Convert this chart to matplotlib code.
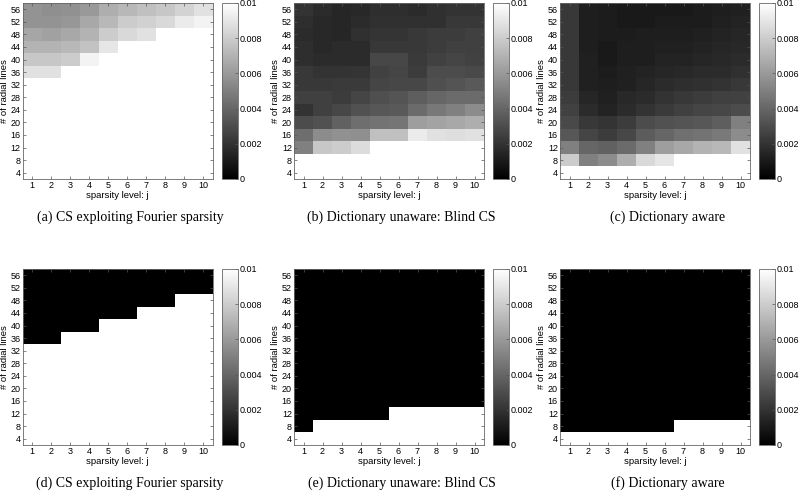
import numpy as np
import matplotlib
matplotlib.use("Agg")
import matplotlib.pyplot as plt

plt.rcParams['font.family'] = ['Liberation Sans', 'DejaVu Sans']

# Grid axes
radial_lines = [56, 52, 48, 44, 40, 36, 32, 28, 24, 20, 16, 12, 8, 4]   # rows, top to bottom
sparsity = [1, 2, 3, 4, 5, 6, 7, 8, 9, 10]
cbar_ticks = [0, 0.002, 0.004, 0.006, 0.008, 0.01]
cbar_labels = ['0', '0.002', '0.004', '0.006', '0.008', '0.01']

# errors in units of 1e-3; W = off the scale (white)
W = 12
err_fourier = [
    [5.8, 5.6, 5.7, 6.0, 6.8, 7.2, 7.5, 7.8, 8.3, 8.8],
    [5.8, 5.8, 5.9, 6.6, 7.2, 8.0, 8.2, 8.5, 9.2, 9.5],
    [6.5, 6.3, 6.6, 7.0, 8.0, 8.5, 8.8, W, W, W],
    [7.0, 7.0, 7.2, 7.6, 9.0, W, W, W, W, W],
    [7.8, 7.8, 8.0, 9.5, W, W, W, W, W, W],
    [8.8, 8.8, W, W, W, W, W, W, W, W],
    [W, W, W, W, W, W, W, W, W, W],
    [W, W, W, W, W, W, W, W, W, W],
    [W, W, W, W, W, W, W, W, W, W],
    [W, W, W, W, W, W, W, W, W, W],
    [W, W, W, W, W, W, W, W, W, W],
    [W, W, W, W, W, W, W, W, W, W],
    [W, W, W, W, W, W, W, W, W, W],
    [W, W, W, W, W, W, W, W, W, W],
]
err_blind = [
    [2.0, 1.7, 1.5, 1.6, 1.8, 1.8, 1.7, 1.9, 2.0, 2.0],
    [1.8, 1.6, 1.5, 1.7, 1.9, 1.9, 1.9, 1.9, 2.2, 2.2],
    [1.7, 1.6, 1.5, 1.9, 2.1, 2.1, 2.2, 2.4, 2.4, 2.5],
    [1.8, 1.6, 1.7, 1.7, 2.2, 2.2, 2.2, 2.4, 2.5, 2.5],
    [1.8, 1.7, 1.7, 1.7, 2.8, 2.8, 2.3, 2.6, 2.7, 2.6],
    [2.2, 2.0, 2.0, 2.1, 2.6, 2.7, 2.4, 3.0, 3.0, 2.9],
    [2.2, 2.2, 2.3, 2.3, 2.7, 2.8, 2.8, 3.1, 3.3, 3.5],
    [2.5, 2.5, 2.4, 2.7, 3.1, 3.3, 3.7, 4.0, 4.2, 4.2],
    [2.0, 2.5, 2.8, 3.2, 3.4, 3.5, 4.2, 4.7, 5.0, 5.5],
    [3.0, 3.2, 3.8, 4.3, 4.5, 4.6, 6.2, 6.4, 6.6, 6.8],
    [4.3, 5.5, 5.7, 5.6, 7.5, 7.5, 9.2, 8.8, 8.7, 8.8],
    [5.0, 7.8, 8.0, 8.6, W, W, W, W, W, W],
    [W, W, W, W, W, W, W, W, W, W],
    [W, W, W, W, W, W, W, W, W, W],
]
err_aware = [
    [2.2, 1.2, 1.1, 1.0, 1.0, 1.0, 1.0, 1.1, 1.2, 1.3],
    [2.2, 1.2, 1.1, 1.0, 1.0, 1.1, 1.1, 1.1, 1.3, 1.4],
    [2.2, 1.2, 1.1, 1.1, 1.2, 1.2, 1.2, 1.3, 1.4, 1.5],
    [2.2, 1.2, 1.0, 1.2, 1.2, 1.3, 1.3, 1.4, 1.5, 1.6],
    [2.2, 1.3, 1.0, 1.2, 1.2, 1.4, 1.4, 1.5, 1.6, 1.7],
    [2.2, 1.3, 1.1, 1.3, 1.4, 1.5, 1.6, 1.7, 1.7, 1.9],
    [2.2, 1.3, 1.2, 1.3, 1.5, 1.7, 1.8, 1.9, 2.0, 2.2],
    [2.4, 1.5, 1.3, 1.6, 1.7, 2.0, 2.2, 2.4, 2.5, 2.6],
    [2.6, 1.7, 1.4, 1.7, 2.0, 2.3, 2.5, 2.7, 2.8, 3.0],
    [2.9, 2.2, 2.1, 2.4, 3.0, 3.2, 3.3, 3.4, 3.7, 5.0],
    [3.4, 2.7, 2.4, 2.8, 3.6, 4.0, 4.4, 4.5, 4.8, 5.5],
    [5.0, 4.0, 3.8, 4.2, 5.0, 6.2, 6.6, 7.0, 7.2, 8.8],
    [8.0, 5.0, 5.5, 6.8, 8.5, 9.0, W, W, W, W],
    [W, W, W, W, W, W, W, W, W, W],
]
# thresholded success maps (0 = success, W = failure)
thr_fourier = [
    [0, 0, 0, 0, 0, 0, 0, 0, 0, 0],
    [0, 0, 0, 0, 0, 0, 0, 0, 0, 0],
    [0, 0, 0, 0, 0, 0, 0, 0, W, W],
    [0, 0, 0, 0, 0, 0, W, W, W, W],
    [0, 0, 0, 0, W, W, W, W, W, W],
    [0, 0, W, W, W, W, W, W, W, W],
] + [[W] * 10] * 8
thr_blind = [[0] * 10] * 11 + [
    [0, 0, 0, 0, 0, W, W, W, W, W],
    [0, W, W, W, W, W, W, W, W, W],
    [W, W, W, W, W, W, W, W, W, W],
]
thr_aware = [[0] * 10] * 12 + [
    [0, 0, 0, 0, 0, 0, W, W, W, W],
    [W, W, W, W, W, W, W, W, W, W],
]

panels = [
    (err_fourier, '(a) CS exploiting Fourier sparsity'),
    (err_blind, '(b) Dictionary unaware: Blind CS'),
    (err_aware, '(c) Dictionary aware'),
    (thr_fourier, '(d) CS exploiting Fourier sparsity'),
    (thr_blind, '(e) Dictionary unaware: Blind CS'),
    (thr_aware, '(f) Dictionary aware'),
]

fig = plt.figure(figsize=(8, 4.92), dpi=100)

# pixel layout of each panel
lefts = [22.5, 294, 560]
cb_lefts = [222, 493, 759]
tops = [3, 269]
ax_w, ax_h = 190, 176
cb_w = 16
fs = 6.5

for i, (data, caption) in enumerate(panels):
    r, c = divmod(i, 3)
    x0 = lefts[c]
    y0 = tops[r]
    ax = fig.add_axes([x0 / 800, 1 - (y0 + ax_h) / 492, ax_w / 800, ax_h / 492])
    vals = np.array(data, dtype=float) / 1000.0
    im = ax.imshow(vals, cmap='gray', vmin=0, vmax=0.01, origin='upper',
                   extent=[0.5, 10.5, 2, 58], aspect='auto', interpolation='nearest')
    ax.set_xticks(sparsity)
    ax.set_yticks(radial_lines)
    ax.tick_params(direction='in', length=2.5, width=0.5, labelsize=fs,
                   top=True, right=True, color='#555555', pad=1.5)
    for s in ax.spines.values():
        s.set_linewidth(0.6)
        s.set_color('#666666')
    ax.set_xlabel('sparsity level: j', fontsize=6.8, labelpad=0.5)
    ax.set_ylabel('# of radial lines', fontsize=6.8, labelpad=1)

    cax = fig.add_axes([cb_lefts[c] / 800, 1 - (y0 + ax_h) / 492, cb_w / 800, ax_h / 492])
    cb = fig.colorbar(im, cax=cax)
    cb.set_ticks(cbar_ticks)
    cb.set_ticklabels(cbar_labels)
    cb.ax.tick_params(direction='in', length=2.5, width=0.5, labelsize=fs,
                      color='#555555', pad=1)
    cb.outline.set_linewidth(0.6)
    cb.outline.set_edgecolor('#666666')

    cx = (x0 + cb_lefts[c] + cb_w) / 2
    cy = 217 if r == 0 else 483
    fig.text(cx / 800, 1 - cy / 492, caption, ha='center', va='center',
             fontsize=10, family='Liberation Serif')

fig.savefig('out.png', dpi=100)
